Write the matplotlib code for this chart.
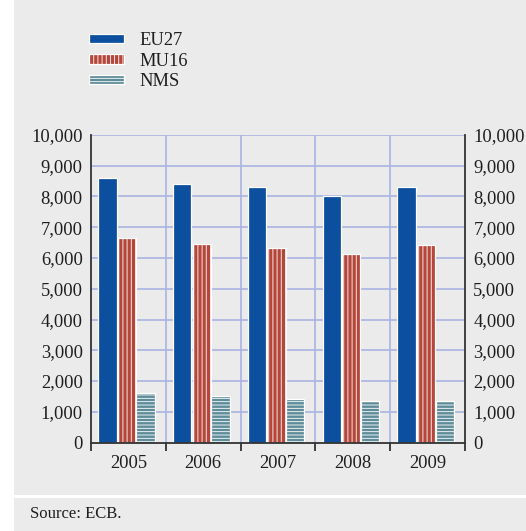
import matplotlib
matplotlib.use("Agg")
import matplotlib.pyplot as plt
import numpy as np
from matplotlib.patches import Rectangle
from matplotlib.ticker import FuncFormatter, FixedLocator

years = ["2005", "2006", "2007", "2008", "2009"]
eu27 = [8600, 8400, 8300, 8000, 8300]
mu16 = [6650, 6470, 6320, 6120, 6410]
nms = [1600, 1520, 1410, 1360, 1360]
series_names = ["EU27", "MU16", "NMS"]

plt.rcParams['font.family'] = ['Liberation Serif', 'DejaVu Serif']
plt.rcParams['hatch.linewidth'] = 0.6

W, H = 526, 531
fig = plt.figure(figsize=(W / 100, H / 100), dpi=100, facecolor='white')

bg = '#ebebeb'
fig.patches.append(Rectangle((14 / W, 1 - 495 / H), 1 - 14 / W, 495 / H,
                             transform=fig.transFigure, facecolor=bg, edgecolor='none', zorder=-10))
fig.patches.append(Rectangle((14 / W, 0), 1 - 14 / W, 33 / H,
                             transform=fig.transFigure, facecolor=bg, edgecolor='none', zorder=-10))

left, right = 91 / W, 465 / W
bottom, top = 1 - 442.5 / H, 1 - 135 / H
ax = fig.add_axes([left, bottom, right - left, top - bottom])
ax.set_facecolor(bg)

x = np.arange(len(years))
bw = 0.245
offs = [-0.28, -0.02, 0.23]
cols = ['#0c4f9e', '#b5463a', '#5e8d99']
hatches = [None, '||||', '-----']
data = [eu27, mu16, nms]
for d, o, c, h, n in zip(data, offs, cols, hatches, series_names):
    ax.bar(x + o, d, width=bw, color=c, edgecolor='white', linewidth=0.9,
           hatch=h, label=n, zorder=2.2)

ax.set_xlim(-0.5, len(years) - 0.5)
ax.set_ylim(0, 10000)
grid_c = '#aab3e3'
yt = np.arange(0, 10001, 1000)
ax.set_yticks(yt)
for v in yt[1:]:
    ax.axhline(v, color=grid_c, lw=1.2, zorder=1)
for b in np.arange(0.5, len(years) - 0.5, 1):
    ax.axvline(b, color=grid_c, lw=1.2, zorder=1)

fmt = FuncFormatter(lambda v, p: f"{int(v):,}")
ax.yaxis.set_major_formatter(fmt)
ax.tick_params(axis='y', length=0, labelsize=13.3, labelcolor='#1e1e1e', pad=6,
               left=False, right=False, labelleft=True, labelright=True)
ax.set_xticks(x)
ax.set_xticklabels(years)
ax.xaxis.set_minor_locator(FixedLocator(np.arange(-0.5, len(years), 1)))
ax.tick_params(axis='x', which='major', length=0, labelsize=13.3, labelcolor='#1e1e1e', pad=9)
ax.tick_params(axis='x', which='minor', length=6, width=1.2, color='#222222', direction='out')

for s in ['left', 'right', 'bottom']:
    ax.spines[s].set_color('#333333')
    ax.spines[s].set_linewidth(1.3)
    ax.spines[s].set_zorder(3)
ax.spines['top'].set_visible(False)

handles, labels = ax.get_legend_handles_labels()
leg = fig.legend(handles, labels, loc='upper left', bbox_to_anchor=(89 / W, 1 - 32 / H),
                 frameon=False, fontsize=13.3, handlelength=1.9, handleheight=0.4,
                 labelspacing=0.2, handletextpad=0.85, borderaxespad=0, borderpad=0)
for t in leg.get_texts():
    t.set_color('#1e1e1e')

fig.text(30 / W, 1 - 514 / H, "Source: ECB.", fontsize=12, color='#1e1e1e', va='center', ha='left')

fig.savefig("out.png", dpi=100, facecolor='white')
